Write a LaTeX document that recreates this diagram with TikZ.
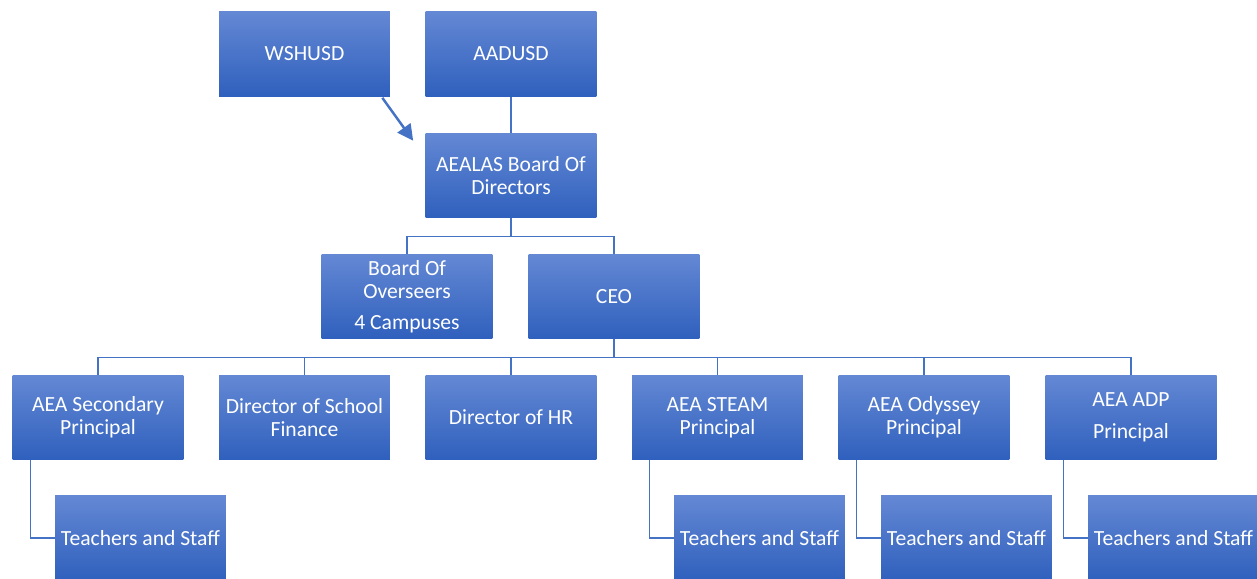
\documentclass[tikz,border=0pt]{standalone}
\usepackage{xcolor}
\usepackage{fontspec}
\setmainfont{Carlito}
\usetikzlibrary{arrows.meta}

\definecolor{boxtop}{RGB}{100,136,212}
\definecolor{boxbot}{RGB}{47,96,189}
\definecolor{linkblue}{RGB}{68,114,196}

\begin{document}
\begin{tikzpicture}[x=0.02cm, y=-0.02cm,
    unit/.style={rectangle, top color=boxtop, bottom color=boxbot,
                 minimum width=3.42cm, minimum height=1.7cm, inner sep=0pt,
                 text=white, align=center, font=\fontsize{12.3}{13.3}\selectfont},
    link/.style={draw=linkblue, line width=0.7pt},
    pointer/.style={draw=linkblue, line width=1.4pt,
                    -{Triangle[length=9pt,width=9pt]}}]
    %\draw[help lines] (0,0) grid (1257,578);
    \useasboundingbox (0,0) rectangle (1257,578);
    \node[unit] (wshusd) at (304.5,54) {WSHUSD};
    \node[unit] (aadusd) at (511,54) {AADUSD};
    \node[unit] (board) at (511,175.5) {AEALAS Board Of\\Directors};
    \node[unit] (overseers) at (407,296.5) {Board Of\\Overseers\\[4pt]4 Campuses};
    \node[unit] (ceo) at (614,296.5) {CEO};
    \node[unit] (secondary) at (98,417.5) {AEA Secondary\\Principal};
    \node[unit] (finance) at (304.5,417.5) {Director of School\\Finance};
    \node[unit] (hr) at (511,417.5) {Director of HR};
    \node[unit] (steam) at (717.5,417.5) {AEA STEAM\\Principal};
    \node[unit] (odyssey) at (924,417.5) {AEA Odyssey\\Principal};
    \node[unit] (adp) at (1131,417.5) {AEA ADP\\[5pt]Principal};
    \node[unit] (staffA) at (140.5,538) {Teachers and Staff};
    \node[unit] (staffB) at (759.5,538) {Teachers and Staff};
    \node[unit] (staffC) at (966.5,538) {Teachers and Staff};
    \node[unit] (staffD) at (1173.5,538) {Teachers and Staff};

    \draw[pointer] ([shift={(-8,1)}]wshusd.south east)
                -- ([shift={(-12,8)}]board.north west);
    \draw[link] (aadusd.south) -- (board.north);
    \foreach \n in {overseers, ceo}
        \draw[link] (board.south) -- ++(0,18) -| (\n.north);
    \foreach \n in {secondary, finance, hr, steam, odyssey, adp}
        \draw[link] (ceo.south) -- ++(0,18) -| (\n.north);
    \draw[link] (secondary.south west) ++(18,0) |- (staffA.west);
    \draw[link] (steam.south west) ++(18,0) |- (staffB.west);
    \draw[link] (odyssey.south west) ++(18,0) |- (staffC.west);
    \draw[link] (adp.south west) ++(18,0) |- (staffD.west);
\end{tikzpicture}
\end{document}
